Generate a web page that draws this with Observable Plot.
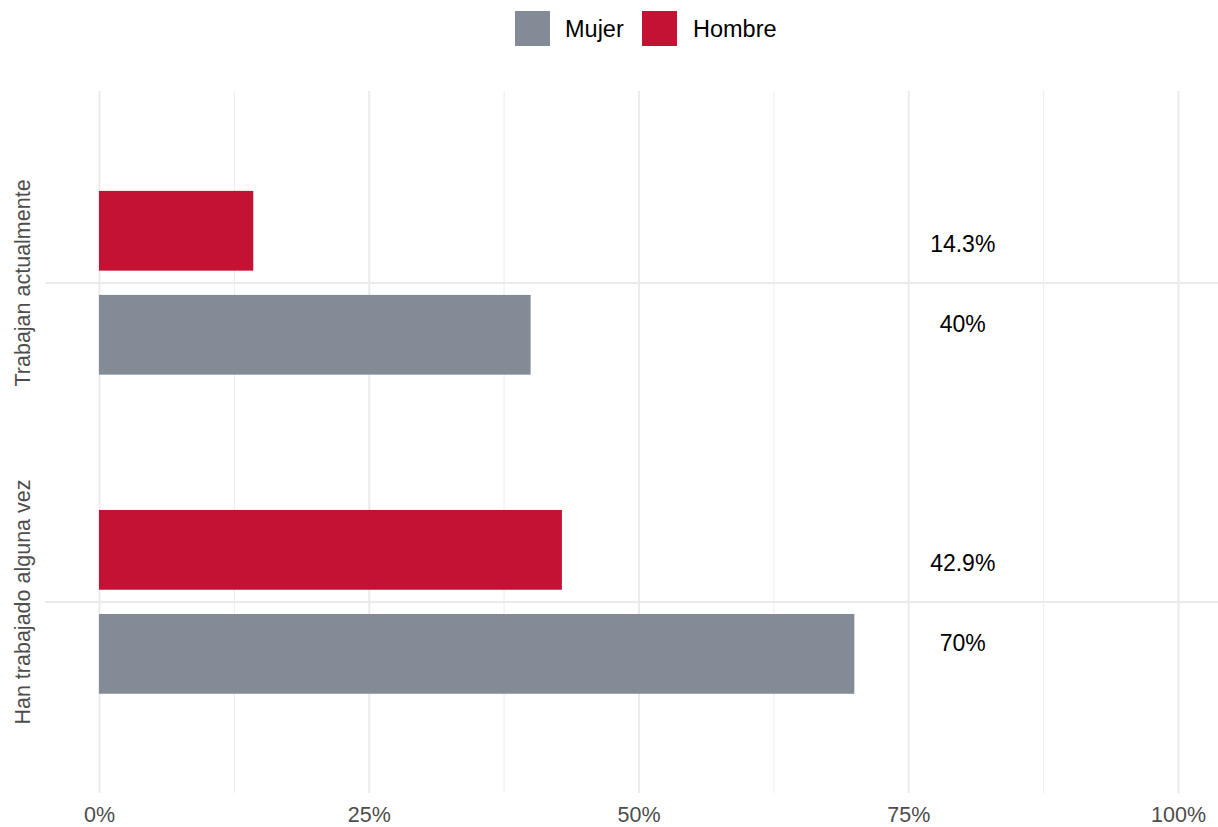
<!DOCTYPE html>
<html>
<head>
<meta charset="utf-8">
<script src="https://cdn.jsdelivr.net/npm/d3@7"></script>
<script src="https://cdn.jsdelivr.net/npm/@observablehq/plot@0.6"></script>
<style>
  html, body { margin: 0; padding: 0; background: #fff; }
  body { width: 1218px; height: 827px; overflow: hidden; font-family: "Liberation Sans", Arial, sans-serif; }
  #legend { position: relative; height: 60px; }
  .sw { position: absolute; top: 11px; width: 35px; height: 35px; }
  .lb { position: absolute; top: 14px; font-size: 23.5px; line-height: 30px; color: #000; }
</style>
</head>
<body>
<div id="legend"></div>
<div id="chart"></div>
<script>
const categories = ["Trabajan actualmente", "Han trabajado alguna vez"];
const sexes = ["Mujer", "Hombre"];
const colors = ["#838c96", "#c41235"];
const mujer = [0.40, 0.70];
const hombre = [0.143, 0.429];
const xTicks = [0, 0.25, 0.5, 0.75, 1];
const minorTicks = [0.125, 0.375, 0.625, 0.875];

// layout constants (style, not data)
const catPos = {"Trabajan actualmente": 2, "Han trabajado alguna vez": 1};
const barOffset = {"Mujer": -0.164, "Hombre": 0.162};
const textOffset = {"Mujer": -0.13, "Hombre": 0.12};
const barHalf = 0.125;
const labelX = 0.8;

const rows = [];
categories.forEach((c, i) => {
  rows.push({cat: c, sex: "Mujer", value: mujer[i]});
  rows.push({cat: c, sex: "Hombre", value: hombre[i]});
});
const fmt = v => (+(v * 100).toFixed(1)) + "%";

// legend
const legend = document.getElementById("legend");
const legendPos = [{sw: 515, lb: 565}, {sw: 642, lb: 693}];
sexes.forEach((s, i) => {
  const sw = document.createElement("div");
  sw.className = "sw"; sw.style.left = legendPos[i].sw + "px"; sw.style.background = colors[i];
  const lb = document.createElement("div");
  lb.className = "lb"; lb.style.left = legendPos[i].lb + "px"; lb.textContent = s;
  legend.appendChild(sw); legend.appendChild(lb);
});

const chart = Plot.plot({
  width: 1218,
  height: 767,
  marginLeft: 45,
  marginRight: 0,
  marginTop: 31,
  marginBottom: 34,
  style: {fontFamily: "Liberation Sans, Arial, sans-serif", background: "#fff", overflow: "visible"},
  x: {domain: [-0.05, 1.037]},
  y: {domain: [0.4, 2.6], axis: null},
  color: {domain: sexes, range: colors},
  marks: [
    Plot.ruleX(minorTicks, {stroke: "#ebebeb", strokeWidth: 1}),
    Plot.ruleX(xTicks, {stroke: "#ebebeb", strokeWidth: 2}),
    Plot.ruleY(categories.map(c => catPos[c]), {stroke: "#ebebeb", strokeWidth: 2}),
    Plot.rect(rows, {
      x1: 0,
      x2: "value",
      y1: d => catPos[d.cat] + barOffset[d.sex] - barHalf,
      y2: d => catPos[d.cat] + barOffset[d.sex] + barHalf,
      fill: "sex"
    }),
    Plot.text(rows, {
      x: () => labelX,
      y: d => catPos[d.cat] + textOffset[d.sex],
      text: d => fmt(d.value),
      fontSize: 23,
      fill: "#000"
    }),
    Plot.text(categories, {
      frameAnchor: "left",
      y: c => catPos[c],
      text: c => c,
      rotate: -90,
      textAnchor: "middle",
      dx: -22,
      fontSize: 21.5,
      fill: "#4d4d4d"
    }),
    Plot.axisX({
      ticks: xTicks,
      tickFormat: d3.format(".0%"),
      tickSize: 0,
      tickPadding: 13,
      fontSize: 21.5,
      color: "#4d4d4d",
      label: null
    })
  ]
});
document.getElementById("chart").appendChild(chart);
</script>
</body>
</html>
